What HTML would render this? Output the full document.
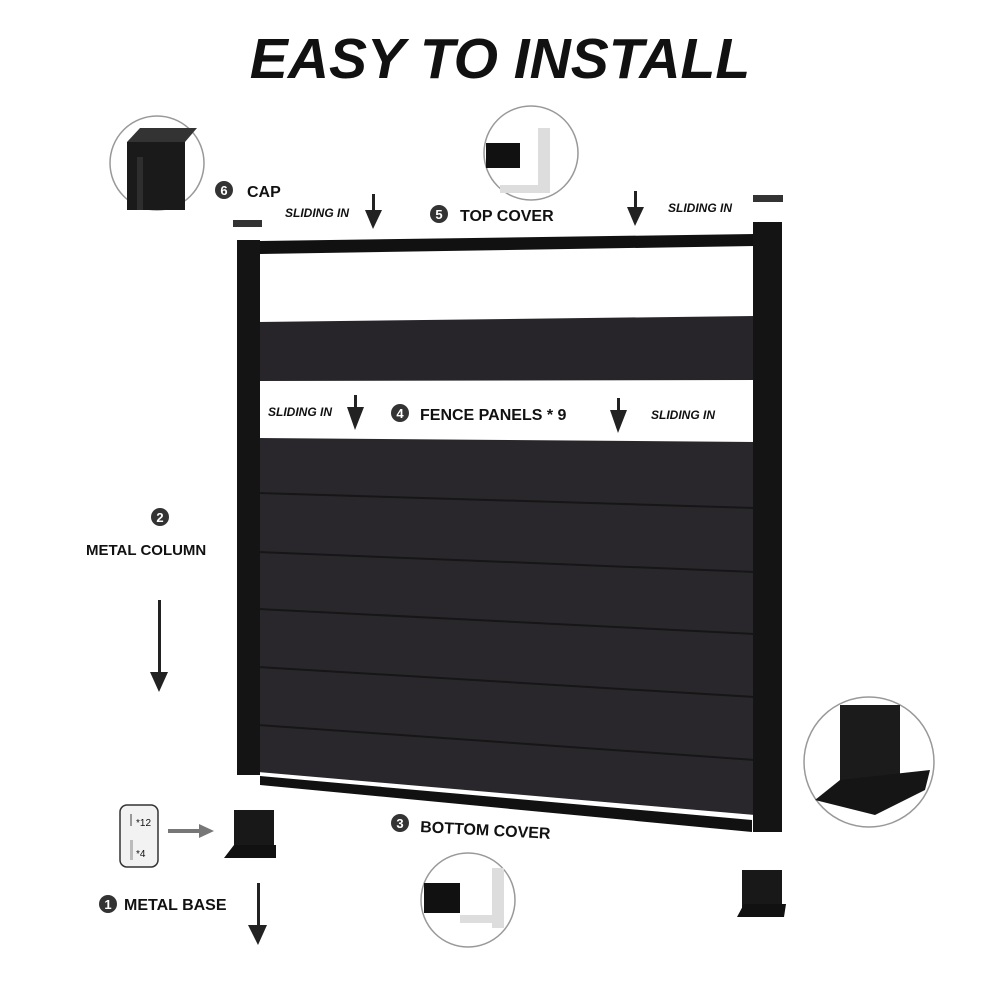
<!DOCTYPE html>
<html><head><meta charset="utf-8"><style>
html,body{margin:0;padding:0;background:#fff;}
svg{display:block}
text{font-family:"Liberation Sans",sans-serif;}
</style></head><body>
<svg width="1000" height="1000" viewBox="0 0 1000 1000" xmlns="http://www.w3.org/2000/svg">
<rect width="1000" height="1000" fill="#fff"/>
<text x="500" y="78" text-anchor="middle" font-size="57" font-weight="bold" font-style="italic" fill="#111">EASY TO INSTALL</text>

<!-- circles -->
<circle cx="157" cy="163" r="47" fill="#fff" stroke="#999" stroke-width="1.5"/>
<rect x="127" y="142" width="58" height="68" fill="#1a1a1a"/>
<polygon points="127,142 140,128 197,128 185,142" fill="#333"/>
<rect x="137" y="157" width="6" height="53" fill="#2e2e2e"/>

<circle cx="531" cy="153" r="47" fill="#fff" stroke="#999" stroke-width="1.5"/>
<rect x="486" y="143" width="34" height="25" fill="#111"/>
<rect x="538" y="128" width="12" height="65" fill="#ddd"/>
<rect x="500" y="185" width="50" height="8" fill="#ddd"/>

<circle cx="869" cy="762" r="65" fill="#fff" stroke="#999" stroke-width="1.5"/>
<rect x="840" y="705" width="60" height="85" fill="#1b1b1b"/>
<polygon points="815,800 840,780 930,770 925,790 875,815" fill="#151515"/>

<circle cx="468" cy="900" r="47" fill="#fff" stroke="#999" stroke-width="1.5"/>
<rect x="424" y="883" width="36" height="30" fill="#111"/>
<rect x="492" y="868" width="12" height="60" fill="#ddd"/>
<rect x="460" y="915" width="44" height="8" fill="#ddd"/>

<!-- caps -->
<rect x="233" y="220" width="29" height="7" fill="#333"/>
<rect x="753" y="195" width="30" height="7" fill="#333"/>

<!-- top cover -->
<polygon points="260,241 755,234 755,246 260,254" fill="#111"/>
<!-- top panel -->
<polygon points="258,322 755,316 755,380 258,381" fill="#27252a"/>
<!-- lower panel -->
<polygon points="258,438 755,442 755,815 258,772" fill="#29272b"/>
<g stroke="#161616" stroke-width="2">
<line x1="258" y1="493" x2="755" y2="508"/>
<line x1="258" y1="552" x2="755" y2="572"/>
<line x1="258" y1="609" x2="755" y2="634"/>
<line x1="258" y1="667" x2="755" y2="697"/>
<line x1="258" y1="725" x2="755" y2="760"/>
</g>
<!-- bottom cover -->
<polygon points="260,776 752,820 752,832 260,785" fill="#111"/>
<!-- posts -->
<rect x="237" y="240" width="23" height="535" fill="#141414"/>
<rect x="753" y="222" width="29" height="610" fill="#141414"/>

<!-- labels -->
<g font-weight="bold" fill="#111">
<circle cx="224" cy="190" r="9" fill="#333"/><text x="224" y="195" font-size="13" fill="#fff" text-anchor="middle">6</text>
<text x="247" y="197" font-size="16">CAP</text>
<text x="285" y="217" font-size="12" font-style="italic">SLIDING IN</text>
<circle cx="439" cy="214" r="9" fill="#333"/><text x="439" y="219" font-size="13" fill="#fff" text-anchor="middle">5</text>
<text x="460" y="221" font-size="16">TOP COVER</text>
<text x="668" y="212" font-size="12" font-style="italic">SLIDING IN</text>
<text x="268" y="416" font-size="12" font-style="italic">SLIDING IN</text>
<circle cx="400" cy="413" r="9" fill="#333"/><text x="400" y="418" font-size="13" fill="#fff" text-anchor="middle">4</text>
<text x="420" y="420" font-size="16">FENCE PANELS * 9</text>
<text x="651" y="419" font-size="12" font-style="italic">SLIDING IN</text>
<circle cx="160" cy="517" r="9" fill="#333"/><text x="160" y="522" font-size="13" fill="#fff" text-anchor="middle">2</text>
<text x="86" y="555" font-size="15">METAL COLUMN</text>
<circle cx="400" cy="823" r="9" fill="#333"/><text x="400" y="828" font-size="13" fill="#fff" text-anchor="middle">3</text>
<text x="420" y="832" font-size="16" transform="rotate(3 420 832)">BOTTOM COVER</text>
<circle cx="108" cy="904" r="9" fill="#333"/><text x="108" y="909" font-size="13" fill="#fff" text-anchor="middle">1</text>
<text x="124" y="910" font-size="16">METAL BASE</text>
</g>

<!-- arrows -->
<g fill="#222">
<rect x="372" y="194" width="3" height="18"/><polygon points="365,210 382,210 373,229"/>
<rect x="634" y="191" width="3" height="18"/><polygon points="627,207 644,207 635,226"/>
<rect x="354" y="395" width="3" height="15"/><polygon points="347,407 364,407 355,430"/>
<rect x="617" y="398" width="3" height="15"/><polygon points="610,410 627,410 618,433"/>
<rect x="158" y="600" width="3" height="75"/><polygon points="150,672 168,672 159,692"/>
<rect x="257" y="883" width="3" height="45"/><polygon points="248,925 267,925 258,945"/>
</g>
<rect x="168" y="829" width="33" height="4" fill="#777"/><polygon points="199,824 214,831 199,838" fill="#777"/>

<!-- hardware box -->
<rect x="120" y="805" width="38" height="62" rx="7" fill="#f2f2f2" stroke="#333" stroke-width="1.5"/>
<rect x="130" y="814" width="2" height="12" fill="#999"/>
<text x="136" y="826" font-size="10" fill="#111">*12</text>
<rect x="130" y="840" width="3" height="20" fill="#bbb"/>
<text x="136" y="857" font-size="10" fill="#111">*4</text>

<!-- small bases -->
<rect x="234" y="810" width="40" height="38" fill="#181818"/>
<polygon points="224,858 234,845 276,845 276,858" fill="#111"/>
<rect x="742" y="870" width="40" height="38" fill="#181818"/>
<polygon points="737,917 744,904 786,904 784,917" fill="#111"/>
</svg>
</body></html>
